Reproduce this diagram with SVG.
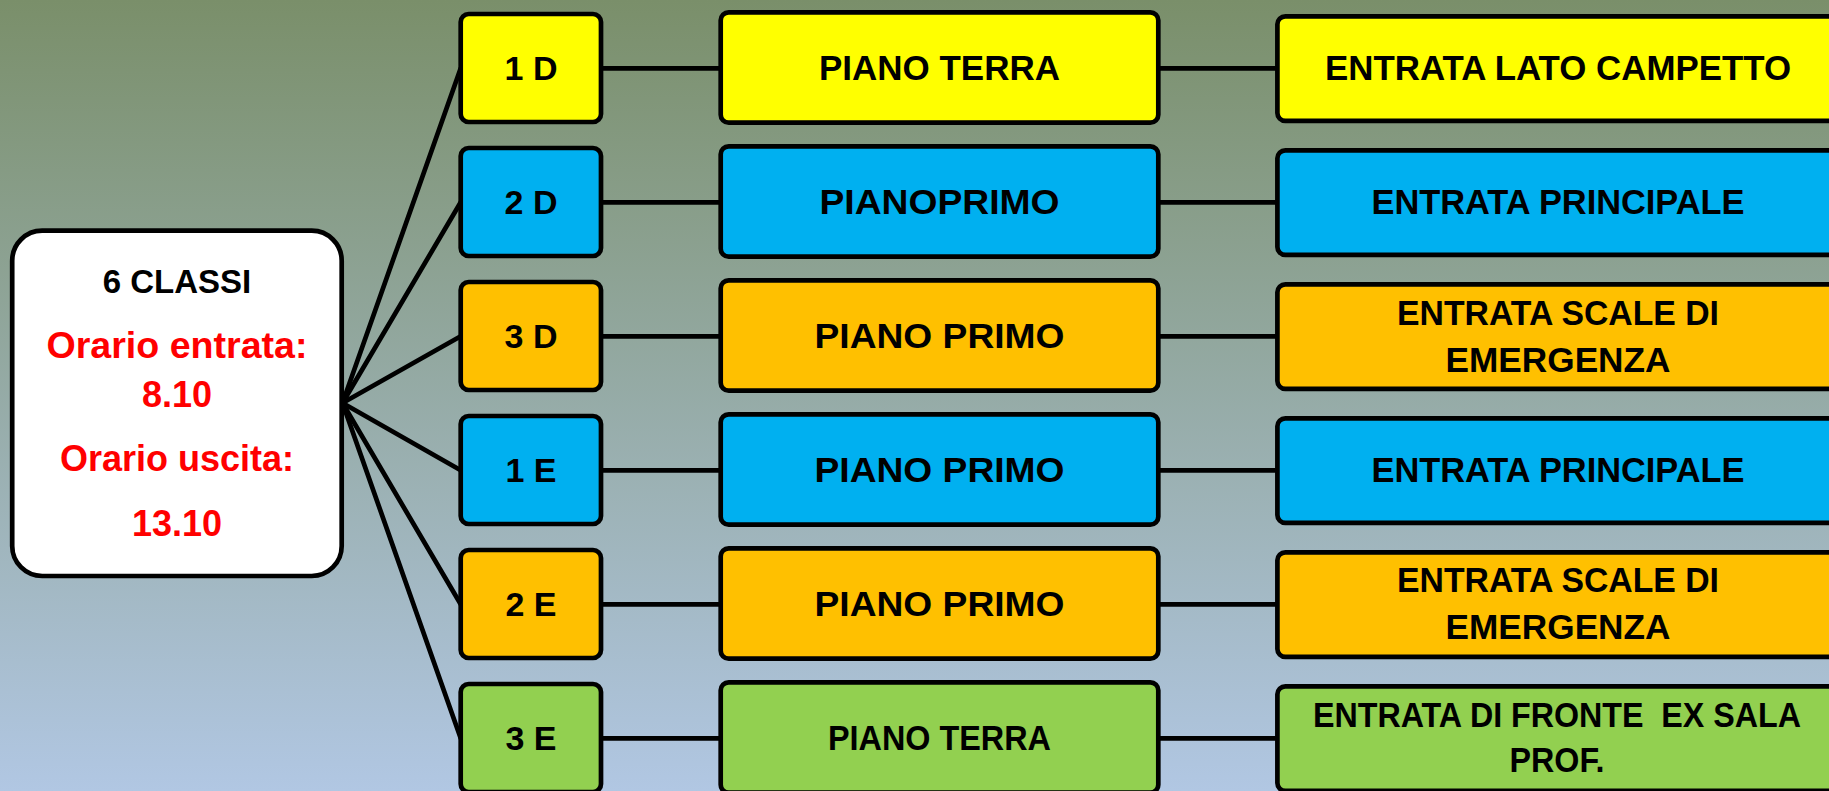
<svg xmlns="http://www.w3.org/2000/svg" width="1829" height="791" viewBox="0 0 1829 791">
<defs>
<linearGradient id="bg" x1="0" y1="0" x2="0" y2="1">
<stop offset="0" stop-color="#7a8f6a"/>
<stop offset="1" stop-color="#b1c7e3"/>
</linearGradient>
</defs>
<style>
text{font-family:"Liberation Sans",Arial,sans-serif;font-weight:bold;text-anchor:middle;white-space:pre}
.box{stroke:#000;stroke-width:4.7}
.y{fill:#ffff00}.b{fill:#00b0f0}.o{fill:#ffc000}.g{fill:#92d050}
.lbl{font-size:35px;fill:#000}
.cls{font-size:34px;fill:#000}
.red{font-size:36px;fill:#ff0000}
.conn line{stroke:#000;stroke-width:4.7;stroke-linecap:round}
</style>
<rect x="0" y="0" width="1829" height="791" fill="url(#bg)"/>
<g id="connectors" class="conn">
<line x1="342.5" y1="403" x2="460.7" y2="68.3"/>
<line x1="342.5" y1="403" x2="460.7" y2="202.3"/>
<line x1="342.5" y1="403" x2="460.7" y2="336.3"/>
<line x1="342.5" y1="403" x2="460.7" y2="470.3"/>
<line x1="342.5" y1="403" x2="460.7" y2="604.3"/>
<line x1="342.5" y1="403" x2="460.7" y2="738.3"/>
<line x1="601" y1="68.3" x2="720.7" y2="68.3"/>
<line x1="601" y1="202.3" x2="720.7" y2="202.3"/>
<line x1="601" y1="336.3" x2="720.7" y2="336.3"/>
<line x1="601" y1="470.3" x2="720.7" y2="470.3"/>
<line x1="601" y1="604.3" x2="720.7" y2="604.3"/>
<line x1="601" y1="738.3" x2="720.7" y2="738.3"/>
<line x1="1158.3" y1="68.3" x2="1277.4" y2="68.3"/>
<line x1="1158.3" y1="202.3" x2="1277.4" y2="202.3"/>
<line x1="1158.3" y1="336.3" x2="1277.4" y2="336.3"/>
<line x1="1158.3" y1="470.3" x2="1277.4" y2="470.3"/>
<line x1="1158.3" y1="604.3" x2="1277.4" y2="604.3"/>
<line x1="1158.3" y1="738.3" x2="1277.4" y2="738.3"/>
</g>
<g id="root">
<rect class="box" x="12.2" y="230.7" width="329.5" height="345.3" rx="30" fill="#fff"/>
<text x="177" y="293" font-size="33" fill="#000">6 CLASSI</text>
<text class="red" x="177" y="358" textLength="261" lengthAdjust="spacingAndGlyphs">Orario entrata:</text>
<text class="red" x="177" y="407">8.10</text>
<text class="red" x="177" y="471">Orario uscita:</text>
<text class="red" x="177" y="536">13.10</text>
</g>
<g id="c1D"><rect class="box y" x="460.7" y="14" width="140.3" height="108" rx="8"/><text class="cls" x="531" y="80">1 D</text></g>
<g id="c2D"><rect class="box b" x="460.7" y="148" width="140.3" height="108" rx="8"/><text class="cls" x="531" y="214">2 D</text></g>
<g id="c3D"><rect class="box o" x="460.7" y="282" width="140.3" height="108" rx="8"/><text class="cls" x="531" y="348">3 D</text></g>
<g id="c1E"><rect class="box b" x="460.7" y="416" width="140.3" height="108" rx="8"/><text class="cls" x="531" y="482">1 E</text></g>
<g id="c2E"><rect class="box o" x="460.7" y="550" width="140.3" height="108" rx="8"/><text class="cls" x="531" y="616">2 E</text></g>
<g id="c3E"><rect class="box g" x="460.7" y="684" width="140.3" height="108" rx="8"/><text class="cls" x="531" y="750">3 E</text></g>
<g id="p1"><rect class="box y" x="720.7" y="12.3" width="437.6" height="110.4" rx="8"/><text class="lbl" x="939.5" y="80" textLength="241" lengthAdjust="spacingAndGlyphs">PIANO TERRA</text></g>
<g id="p2"><rect class="box b" x="720.7" y="146.3" width="437.6" height="110.4" rx="8"/><text class="lbl" x="939.5" y="214" textLength="240" lengthAdjust="spacingAndGlyphs">PIANOPRIMO</text></g>
<g id="p3"><rect class="box o" x="720.7" y="280.3" width="437.6" height="110.4" rx="8"/><text class="lbl" x="939.5" y="348" textLength="250" lengthAdjust="spacingAndGlyphs">PIANO PRIMO</text></g>
<g id="p4"><rect class="box b" x="720.7" y="414.3" width="437.6" height="110.4" rx="8"/><text class="lbl" x="939.5" y="482" textLength="250" lengthAdjust="spacingAndGlyphs">PIANO PRIMO</text></g>
<g id="p5"><rect class="box o" x="720.7" y="548.3" width="437.6" height="110.4" rx="8"/><text class="lbl" x="939.5" y="616" textLength="250" lengthAdjust="spacingAndGlyphs">PIANO PRIMO</text></g>
<g id="p6"><rect class="box g" x="720.7" y="682.3" width="437.6" height="110.4" rx="8"/><text class="lbl" x="939.5" y="749.5" font-size="33" textLength="223" lengthAdjust="spacingAndGlyphs">PIANO TERRA</text></g>
<g id="e1"><rect class="box y" x="1277.4" y="16.3" width="700" height="104.6" rx="8"/><text class="lbl" x="1558" y="80" textLength="466" lengthAdjust="spacingAndGlyphs">ENTRATA LATO CAMPETTO</text></g>
<g id="e2"><rect class="box b" x="1277.4" y="150.3" width="700" height="104.6" rx="8"/><text class="lbl" x="1558" y="214" textLength="373" lengthAdjust="spacingAndGlyphs">ENTRATA PRINCIPALE</text></g>
<g id="e3"><rect class="box o" x="1277.4" y="284.3" width="700" height="104.6" rx="8"/><text class="lbl" x="1558" y="325" textLength="322" lengthAdjust="spacingAndGlyphs">ENTRATA SCALE DI</text><text class="lbl" x="1558" y="371.5" textLength="225" lengthAdjust="spacingAndGlyphs">EMERGENZA</text></g>
<g id="e4"><rect class="box b" x="1277.4" y="418.3" width="700" height="104.6" rx="8"/><text class="lbl" x="1558" y="482" textLength="373" lengthAdjust="spacingAndGlyphs">ENTRATA PRINCIPALE</text></g>
<g id="e5"><rect class="box o" x="1277.4" y="552.3" width="700" height="104.6" rx="8"/><text class="lbl" x="1558" y="592" textLength="322" lengthAdjust="spacingAndGlyphs">ENTRATA SCALE DI</text><text class="lbl" x="1558" y="639.3" textLength="225" lengthAdjust="spacingAndGlyphs">EMERGENZA</text></g>
<g id="e6"><rect class="box g" x="1277.4" y="686.3" width="700" height="104.6" rx="8"/><text class="lbl" x="1557" y="726.7" font-size="33" textLength="488" lengthAdjust="spacingAndGlyphs">ENTRATA DI FRONTE  EX SALA</text><text class="lbl" x="1557" y="771.7" font-size="33" textLength="95" lengthAdjust="spacingAndGlyphs">PROF.</text></g>
</svg>
